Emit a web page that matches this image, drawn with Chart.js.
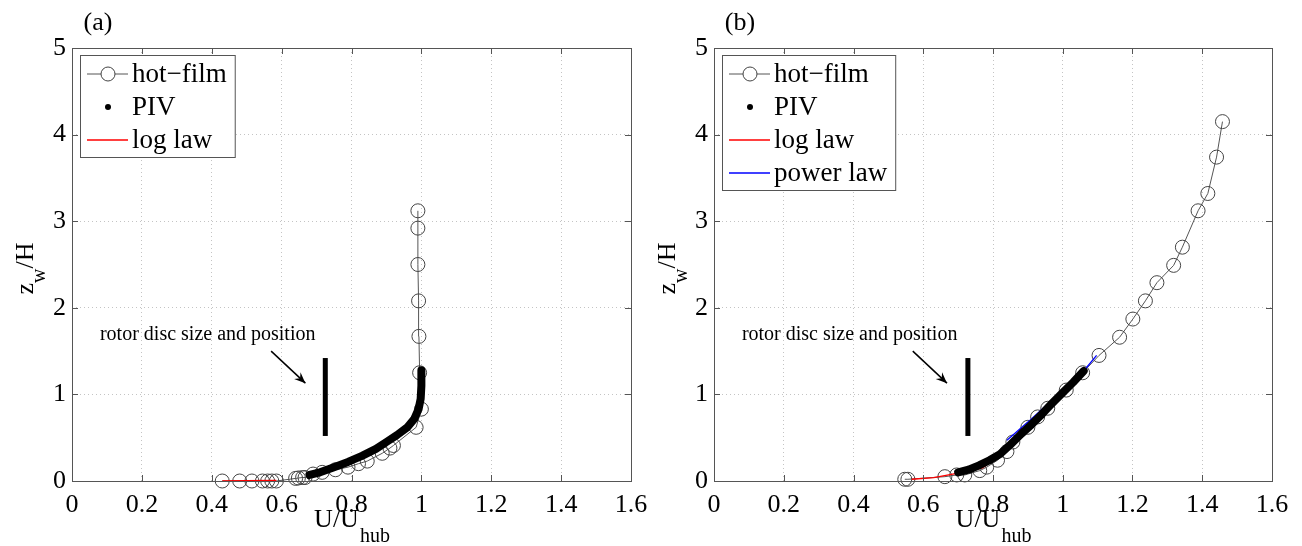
<!DOCTYPE html>
<html><head><meta charset="utf-8">
<script src="https://cdn.jsdelivr.net/npm/chart.js@4/dist/chart.umd.min.js"></script>
<style>
html,body{margin:0;padding:0;background:#fff;}
#wrap{position:relative;width:1302px;height:546px;overflow:hidden;}
canvas{position:absolute;top:0;}
</style></head><body>
<div id="wrap"><canvas id="ca" width="660" height="546" style="left:0"></canvas><canvas id="cb" width="651" height="546" style="left:651px"></canvas></div>
<script>
// ---- ticks ----
const xTicks=[0,0.2,0.4,0.6,0.8,1,1.2,1.4,1.6];
const yTicks=[0,1,2,3,4,5];
const panelLabels=['(a)','(b)'];
const rotorText='rotor disc size and position';

// ---- panel (a) ----
const hfA_u=[0.43,0.48,0.515,0.545,0.56,0.572,0.585,0.64,0.648,0.66,0.667,0.69,0.716,0.754,0.79,0.82,0.845,0.888,0.91,0.92,0.985,1.0,0.995,0.993,0.992,0.99,0.99,0.99];
const hfA_z=[0,0,0,0,0,0,0,0.03,0.035,0.04,0.04,0.08,0.1,0.13,0.16,0.2,0.23,0.32,0.38,0.41,0.62,0.83,1.25,1.67,2.08,2.5,2.92,3.12];
const pivA_u=[0.68,0.71,0.75,0.79,0.83,0.87,0.9,0.93,0.96,0.98,0.992,0.998,1.0,1.0];
const pivA_z=[0.07,0.1,0.16,0.22,0.29,0.37,0.45,0.53,0.62,0.72,0.83,0.95,1.1,1.28];
const logA_u=[0.43,0.5,0.585];
const logA_z=[0.002,0.004,0.008];
const rotorA_u=[0.725,0.725];
const rotorA_z=[0.52,1.42];

// ---- panel (b) ----
const hfB_u=[0.547,0.556,0.662,0.696,0.719,0.762,0.782,0.813,0.84,0.857,0.9,0.928,0.957,1.01,1.057,1.104,1.163,1.201,1.237,1.27,1.318,1.343,1.388,1.416,1.441,1.458];
const hfB_z=[0.02,0.02,0.05,0.07,0.07,0.12,0.16,0.24,0.34,0.45,0.62,0.74,0.84,1.05,1.25,1.45,1.66,1.87,2.08,2.29,2.49,2.7,3.12,3.32,3.74,4.15];
const pivB_u=[0.70,0.73,0.76,0.79,0.82,0.85,0.88,0.91,0.94,0.97,1.0,1.03,1.06];
const pivB_z=[0.1,0.13,0.18,0.24,0.31,0.42,0.54,0.65,0.77,0.9,1.02,1.14,1.27];
const logB_u=[0.567,0.63,0.70,0.77,0.82,0.857,0.882];
const logB_z=[0.02,0.04,0.09,0.15,0.30,0.47,0.61];
const powB_u=[0.84,0.9,0.96,1.02,1.06,1.097];
const powB_z=[0.47,0.68,0.9,1.12,1.27,1.45];
const rotorB_u=[0.728,0.728];
const rotorB_z=[0.52,1.42];
const arrowUZ=[0.57,1.50,0.668,1.13];
const textUZ=[0.08,1.69];

const SERIF='"Liberation Serif","Times New Roman",serif';
const pts=(u,z)=>u.map((v,i)=>({x:v,y:z[i]}));

function makeDatasets(hf,piv,logl,pow,rotor){
  const ds=[];
  ds.push({label:'PIV',data:piv,showLine:true,borderColor:'#000',backgroundColor:'#000',borderWidth:8,pointRadius:0,borderCapStyle:'round',borderJoinStyle:'round'});
  if(pow) ds.push({label:'power law',data:pow,showLine:true,borderColor:'#0000ff',borderWidth:1.3,pointRadius:0});
  ds.push({label:'log law',data:logl,showLine:true,borderColor:'#ff0000',borderWidth:1.3,pointRadius:0});
  ds.push({label:'hot\u2212film',data:hf,showLine:true,borderColor:'#555',borderWidth:1,pointRadius:7,pointBorderColor:'#444',pointBackgroundColor:'rgba(0,0,0,0)',pointBorderWidth:1,clip:false});
  ds.push({label:'rotor',data:rotor,showLine:true,borderColor:'#000',borderWidth:5,pointRadius:0});
  return ds;
}
const legendOrder=[['hot\u2212film','hf'],['PIV','dot'],['log law','line','#ff0000'],['power law','line','#0000ff']];

function overlayPlugin(idx,legendRows){
  return {id:'overlay'+idx,
    afterDraw(chart){
      const ctx=chart.ctx, a=chart.chartArea, xs=chart.scales.x, ys=chart.scales.y;
      ctx.save();
      // frame
      ctx.strokeStyle='#555'; ctx.lineWidth=1;
      ctx.strokeRect(Math.round(a.left)+0.5,Math.round(a.top)+0.5,Math.round(a.right-a.left),Math.round(a.bottom-a.top));
      ctx.beginPath();
      xTicks.forEach(v=>{const p=Math.round(xs.getPixelForValue(v))+0.5;ctx.moveTo(p,a.bottom);ctx.lineTo(p,a.bottom-6);ctx.moveTo(p,a.top);ctx.lineTo(p,a.top+6);});
      yTicks.forEach(v=>{const p=Math.round(ys.getPixelForValue(v))+0.5;ctx.moveTo(a.left,p);ctx.lineTo(a.left+6,p);ctx.moveTo(a.right,p);ctx.lineTo(a.right-6,p);});
      ctx.stroke();
      // annotation
      ctx.fillStyle='#000'; ctx.font='20px '+SERIF; ctx.textBaseline='middle'; ctx.textAlign='left';
      ctx.fillText(rotorText,xs.getPixelForValue(textUZ[0]),ys.getPixelForValue(textUZ[1]));
      const x1=xs.getPixelForValue(arrowUZ[0]),y1=ys.getPixelForValue(arrowUZ[1]),x2=xs.getPixelForValue(arrowUZ[2]),y2=ys.getPixelForValue(arrowUZ[3]);
      ctx.strokeStyle='#000'; ctx.lineWidth=1.5;
      ctx.beginPath();ctx.moveTo(x1,y1);ctx.lineTo(x2,y2);ctx.stroke();
      const ang=Math.atan2(y2-y1,x2-x1), L=12, W=0.4;
      ctx.beginPath();ctx.moveTo(x2,y2);ctx.lineTo(x2-L*Math.cos(ang-W),y2-L*Math.sin(ang-W));
      ctx.lineTo(x2-L*0.6*Math.cos(ang),y2-L*0.6*Math.sin(ang));
      ctx.lineTo(x2-L*Math.cos(ang+W),y2-L*Math.sin(ang+W));ctx.closePath();ctx.fill();
      // panel label
      ctx.font='26px '+SERIF; ctx.textAlign='center'; ctx.textBaseline='alphabetic';
      ctx.fillText(panelLabels[idx],a.left+26,30);
      // x title
      const cx=(a.left+a.right)/2;
      ctx.font='26px '+SERIF; const w1=ctx.measureText('U/U').width;
      ctx.font='20px '+SERIF; const w2=ctx.measureText('hub').width;
      let sx=cx-(w1+w2)/2; ctx.textAlign='left';
      ctx.font='26px '+SERIF; ctx.fillText('U/U',sx,527);
      ctx.font='20px '+SERIF; ctx.fillText('hub',sx+w1+1,542);
      // y title
      const cy=(a.top+a.bottom)/2+4;
      ctx.font='26px '+SERIF; const wz=ctx.measureText('z').width, wh=ctx.measureText('/H').width;
      ctx.font='20px '+SERIF; const ww=ctx.measureText('w').width;
      ctx.translate(a.left-39,cy); ctx.rotate(-Math.PI/2);
      let s=-(wz+ww+wh)/2;
      ctx.font='26px '+SERIF; ctx.fillText('z',s,0);
      ctx.font='20px '+SERIF; ctx.fillText('w',s+wz,12);
      ctx.font='26px '+SERIF; ctx.fillText('/H',s+wz+ww,0);
      ctx.setTransform(1,0,0,1,0,0);
      // legend
      ctx.font='27px '+SERIF;
      const bx=a.left+8, by=a.top+7;
      let mw=0; legendRows.forEach(r=>mw=Math.max(mw,ctx.measureText(r[0]).width));
      const bw=52+mw+8, rowY=i=>by+19+33*i, bh=19+33*(legendRows.length-1)+17;
      ctx.fillStyle='#fff'; ctx.fillRect(bx,by,bw,bh);
      ctx.strokeStyle='#555'; ctx.lineWidth=1; ctx.strokeRect(bx+0.5,by+0.5,bw,bh);
      legendRows.forEach((r,i)=>{
        const y=rowY(i);
        if(r[1]==='hf'){ctx.strokeStyle='#555';ctx.lineWidth=1;ctx.beginPath();ctx.moveTo(bx+7,y);ctx.lineTo(bx+48,y);ctx.stroke();
          ctx.fillStyle='#fff';ctx.beginPath();ctx.arc(bx+28,y,7,0,Math.PI*2);ctx.fill();ctx.strokeStyle='#444';ctx.stroke();}
        else if(r[1]==='dot'){ctx.fillStyle='#000';ctx.beginPath();ctx.arc(bx+28,y,3,0,Math.PI*2);ctx.fill();}
        else {ctx.strokeStyle=r[2];ctx.lineWidth=1.3;ctx.beginPath();ctx.moveTo(bx+7,y);ctx.lineTo(bx+48,y);ctx.stroke();}
        ctx.fillStyle='#000';ctx.textAlign='left';ctx.textBaseline='middle';
        ctx.fillText(r[0],bx+52,y+1);
      });
      ctx.restore();
    }};
}

function makeChart(id,idx,datasets,yWidth,padRight,legendRows){
  return new Chart(document.getElementById(id),{
    type:'scatter',
    data:{datasets},
    options:{
      responsive:false,animation:false,devicePixelRatio:1,
      layout:{padding:{top:48,right:padRight,left:0,bottom:0}},
      plugins:{legend:{display:false},tooltip:{enabled:false}},
      scales:{
        x:{type:'linear',min:0,max:1.6,
          afterBuildTicks:s=>{s.ticks=xTicks.map(v=>({value:v}));},
          afterFit:s=>{s.height=65;},
          grid:{color:'#c4c4c4',lineWidth:1,drawTicks:false},
          border:{display:false,dash:[1,3]},
          ticks:{padding:9,color:'#000',font:{family:SERIF,size:26},maxRotation:0,autoSkip:false,callback:v=>String(Math.round(v*10)/10)}},
        y:{type:'linear',min:0,max:5,
          afterBuildTicks:s=>{s.ticks=yTicks.map(v=>({value:v}));},
          afterFit:s=>{s.width=yWidth;},
          grid:{color:'#c4c4c4',lineWidth:1,drawTicks:false},
          border:{display:false,dash:[1,3]},
          ticks:{padding:6,color:'#000',font:{family:SERIF,size:26},autoSkip:false,callback:v=>String(v)}}
      }
    },
    plugins:[overlayPlugin(idx,legendRows)]
  });
}

makeChart('ca',0,makeDatasets(pts(hfA_u,hfA_z),pts(pivA_u,pivA_z),pts(logA_u,logA_z),null,pts(rotorA_u,rotorA_z)),72,29,legendOrder.slice(0,3));
makeChart('cb',1,makeDatasets(pts(hfB_u,hfB_z),pts(pivB_u,pivB_z),pts(logB_u,logB_z),pts(powB_u,powB_z),pts(rotorB_u,rotorB_z)),63,30,legendOrder);
</script>
</body></html>
